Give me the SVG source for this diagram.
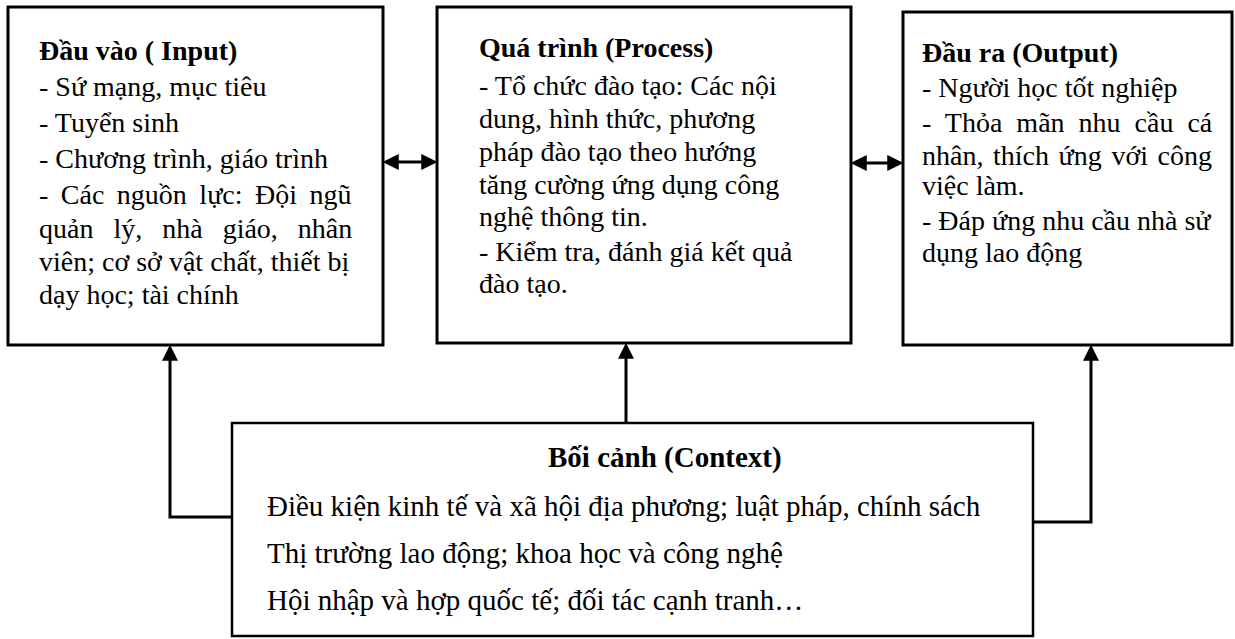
<svg xmlns="http://www.w3.org/2000/svg" width="1235" height="639" viewBox="0 0 1235 639">
  <style>
    .box { fill: #ffffff; stroke: #000000; stroke-width: 3; }
    .ctx { fill: #ffffff; stroke: #000000; stroke-width: 2.5; }
    .t { font-family: "Liberation Serif", "Times New Roman", serif; font-size: 28px; fill: #000000; }
    .c { font-size: 29px; }
    .b { font-weight: bold; }
    .conn { fill: none; stroke: #000000; stroke-width: 3; }
  </style>
  <defs>
    <marker id="arr" markerUnits="userSpaceOnUse" markerWidth="16" markerHeight="16" viewBox="0 0 15 15" refX="11" refY="7.5" orient="auto-start-reverse">
      <path d="M0,0 L15,7.5 L0,15 Z" fill="#000000"/>
    </marker>
  </defs>
  <rect x="0" y="0" width="1235" height="639" fill="#ffffff"/>

  <g id="connectors">
    <line class="conn" x1="387" y1="162" x2="433" y2="162" marker-start="url(#arr)" marker-end="url(#arr)"/>
    <line class="conn" x1="855" y1="163" x2="899" y2="163" marker-start="url(#arr)" marker-end="url(#arr)"/>
    <polyline class="conn" points="232,517 170,517 170,349" marker-end="url(#arr)"/>
    <line class="conn" x1="626" y1="423" x2="626" y2="347" marker-end="url(#arr)"/>
    <polyline class="conn" points="1033,522 1091,522 1091,349" marker-end="url(#arr)"/>
  </g>

  <g id="input">
    <rect class="box" x="8" y="7" width="375" height="338"/>
    <text class="t b" x="39" y="60">Đầu vào ( Input)</text>
    <text class="t" x="39" y="96">- Sứ mạng, mục tiêu</text>
    <text class="t" x="39" y="132">- Tuyển sinh</text>
    <text class="t" x="39" y="168">- Chương trình, giáo trình</text>
    <text class="t" x="39" y="204" word-spacing="5.5">- Các nguồn lực: Đội ngũ</text>
    <text class="t" x="39" y="238" word-spacing="13">quản lý, nhà giáo, nhân</text>
    <text class="t" x="39" y="271">viên; cơ sở vật chất, thiết bị</text>
    <text class="t" x="39" y="304">dạy học; tài chính</text>
  </g>

  <g id="process">
    <rect class="box" x="437" y="7" width="414" height="336"/>
    <text class="t b" x="479" y="57">Quá trình (Process)</text>
    <text class="t" x="479" y="95">- Tổ chức đào tạo: Các nội</text>
    <text class="t" x="479" y="128">dung, hình thức, phương</text>
    <text class="t" x="479" y="161">pháp đào tạo theo hướng</text>
    <text class="t" x="479" y="194">tăng cường ứng dụng công</text>
    <text class="t" x="479" y="226">nghệ thông tin.</text>
    <text class="t" x="479" y="261">- Kiểm tra, đánh giá kết quả</text>
    <text class="t" x="479" y="293">đào tạo.</text>
  </g>

  <g id="output">
    <rect class="box" x="903" y="12" width="329" height="333"/>
    <text class="t b" x="922" y="62">Đầu ra (Output)</text>
    <text class="t" x="922" y="97">- Người học tốt nghiệp</text>
    <text class="t" x="922" y="132" word-spacing="7">- Thỏa mãn nhu cầu cá</text>
    <text class="t" x="922" y="165" word-spacing="2.6">nhân, thích ứng với công</text>
    <text class="t" x="922" y="195">việc làm.</text>
    <text class="t" x="922" y="230">- Đáp ứng nhu cầu nhà sử</text>
    <text class="t" x="922" y="262">dụng lao động</text>
  </g>

  <g id="context">
    <rect class="ctx" x="232" y="423" width="801" height="213"/>
    <text class="t c b" x="548" y="467">Bối cảnh (Context)</text>
    <text class="t c" x="267" y="516">Điều kiện kinh tế và xã hội địa phương; luật pháp, chính sách</text>
    <text class="t c" x="267" y="563">Thị trường lao động; khoa học và công nghệ</text>
    <text class="t c" x="267" y="610">Hội nhập và hợp quốc tế; đối tác cạnh tranh…</text>
  </g>
</svg>
